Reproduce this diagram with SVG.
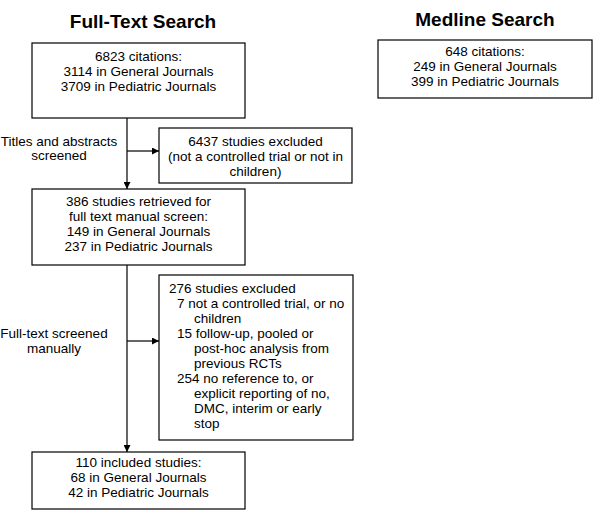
<svg xmlns="http://www.w3.org/2000/svg" width="600" height="518" viewBox="0 0 600 518">
<style>
.box{fill:#fff;stroke:#000;stroke-width:1.2}
.t{font-family:"Liberation Sans",Arial,sans-serif;font-size:13.5px;fill:#000}
.c{text-anchor:middle}
.h{font-family:"Liberation Sans",Arial,sans-serif;font-size:19px;font-weight:bold;text-anchor:middle;fill:#000}
.ln{stroke:#000;stroke-width:1.2;fill:none}
</style>
<defs>
<marker id="ah" viewBox="0 0 10 10" refX="10" refY="5" markerWidth="7" markerHeight="7" markerUnits="userSpaceOnUse" orient="auto">
<path d="M0,0 L10,5 L0,10 z" fill="#000"/>
</marker>
</defs>
<rect width="600" height="518" fill="#fff"/>
<text class="h" x="143" y="28">Full-Text Search</text>
<text class="h" x="485" y="26">Medline Search</text>
<g id="connectors">
<line class="ln" x1="127" y1="118" x2="127" y2="189" marker-end="url(#ah)"/>
<line class="ln" x1="127" y1="151" x2="159" y2="151" marker-end="url(#ah)"/>
<line class="ln" x1="127" y1="265" x2="127" y2="452" marker-end="url(#ah)"/>
<line class="ln" x1="127" y1="341" x2="159" y2="341" marker-end="url(#ah)"/>
<text class="t c" x="59" y="146">Titles and abstracts</text>
<text class="t c" x="59" y="160">screened</text>
<text class="t c" x="54" y="338">Full-text screened</text>
<text class="t c" x="54" y="353">manually</text>
</g>
<g id="n1">
<rect class="box" x="32" y="43" width="213" height="75"/>
<text class="t c" x="138.5" y="61">6823 citations:</text>
<text class="t c" x="138.5" y="76">3114 in General Journals</text>
<text class="t c" x="138.5" y="91">3709 in Pediatric Journals</text>
</g>
<g id="n2">
<rect class="box" x="159" y="128" width="193" height="55"/>
<text class="t c" x="255.5" y="146">6437 studies excluded</text>
<text class="t c" x="255.5" y="161">(not a controlled trial or not in</text>
<text class="t c" x="255.5" y="176">children)</text>
</g>
<g id="n3">
<rect class="box" x="32" y="189" width="213" height="76"/>
<text class="t c" x="138.5" y="206">386 studies retrieved for</text>
<text class="t c" x="138.5" y="221">full text manual screen:</text>
<text class="t c" x="138.5" y="236">149 in General Journals</text>
<text class="t c" x="138.5" y="251">237 in Pediatric Journals</text>
</g>
<g id="n4">
<rect class="box" x="159" y="275" width="194" height="165"/>
<text class="t" x="169" y="293">276 studies excluded</text>
<text class="t" x="177" y="308">7 not a controlled trial, or no</text>
<text class="t" x="194" y="323">children</text>
<text class="t" x="177" y="338">15 follow-up, pooled or</text>
<text class="t" x="194" y="353">post-hoc analysis from</text>
<text class="t" x="194" y="368">previous RCTs</text>
<text class="t" x="177" y="383">254 no reference to, or</text>
<text class="t" x="194" y="398">explicit reporting of no,</text>
<text class="t" x="194" y="413">DMC, interim or early</text>
<text class="t" x="194" y="428">stop</text>
</g>
<g id="n5">
<rect class="box" x="32" y="452" width="213" height="57"/>
<text class="t c" x="138.5" y="467">110 included studies:</text>
<text class="t c" x="138.5" y="482">68 in General Journals</text>
<text class="t c" x="138.5" y="497">42 in Pediatric Journals</text>
</g>
<g id="n6">
<rect class="box" x="378" y="40" width="214" height="58"/>
<text class="t c" x="485" y="56">648 citations:</text>
<text class="t c" x="485" y="71">249 in General Journals</text>
<text class="t c" x="485" y="86">399 in Pediatric Journals</text>
</g>
</svg>
